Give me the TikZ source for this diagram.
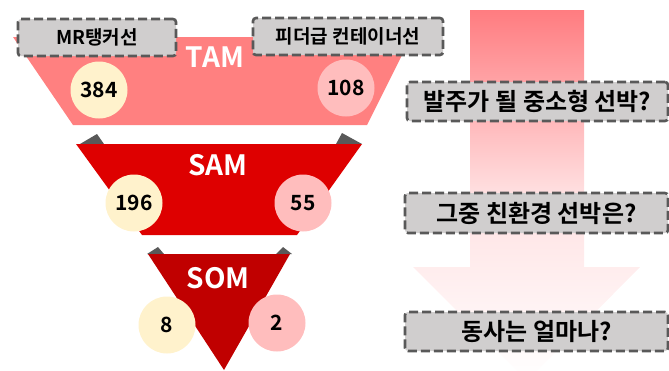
\documentclass[tikz,border=0pt]{standalone}
\usepackage{fontspec}
\setmainfont{Noto Sans CJK KR}[BoldFont={Noto Sans CJK KR Bold}]
\definecolor{tamc}{RGB}{255,128,128}
\definecolor{samc}{RGB}{222,0,0}
\definecolor{somc}{RGB}{192,0,0}
\definecolor{yel}{RGB}{255,242,204}
\definecolor{pnk}{RGB}{255,189,189}
\definecolor{wedge}{RGB}{89,89,89}
\definecolor{boxfill}{RGB}{208,206,206}
\definecolor{arrtop}{RGB}{255,124,128}
\tikzset{
  qbox/.style={draw=wedge, fill=boxfill, line width=2.6pt, dash pattern=on 9pt off 4pt, rounded corners=3pt, inner sep=0pt, font=\bfseries},
  numc/.style={circle, minimum size=57pt, inner sep=0pt, font=\bfseries\fontsize{21}{21}\selectfont},
  lvl/.style={text=white, font=\bfseries\fontsize{28}{28}\selectfont, inner sep=0pt},
  smalltxt/.style={font=\bfseries\fontsize{19}{19}\selectfont},
  bigtxt/.style={font=\bfseries\fontsize{24}{24}\selectfont}
}
\begin{document}
\begin{tikzpicture}[x=1pt,y=-1pt]
\useasboundingbox (0,0) rectangle (669,370);
% big gradient arrow
\shade[top color=arrtop, bottom color=white, middle color={rgb,255:red,255;green,225;blue,226}]
  (470,10) -- (584,10) -- (584,267) -- (640,267) -- (527,381) -- (413,267) -- (470,267) -- cycle;
% funnel
\fill[tamc] (13,37) -- (411,37) -- (367,125) -- (73,125) -- cycle;
\fill[wedge] (80,144) -- (97,134) -- (104,144) -- cycle;
\fill[wedge] (336,144) -- (342,133) -- (362,144) -- cycle;
\fill[samc] (76,144) -- (362,144) -- (297,235) -- (142,235) -- cycle;
\fill[wedge] (147,254) -- (158,247) -- (164,254) -- cycle;
\fill[wedge] (276,254) -- (283,247) -- (292,254) -- cycle;
\fill[somc] (148,254) -- (290,254) -- (224,370) -- cycle;
% labels
\node[lvl] (tam) at (215,57) {TAM};
\node[lvl] (sam) at (218,165) {SAM};
\node[lvl] (som) at (218,278) {SOM};
% circles
\node[numc, fill=yel] (c1) at (99,90) {384};
\node[numc, fill=pnk] (c2) at (346,88) {108};
\node[numc, fill=yel] (c3) at (134,203) {196};
\node[numc, fill=pnk] (c4) at (303,203) {55};
\node[numc, fill=yel] (c5) at (167,325) {8};
\node[numc, fill=pnk] (c6) at (277,323) {2};
% boxes
\node[qbox, smalltxt, minimum width=158pt, minimum height=37pt] (b1) at (97,37.5) {MR탱커선};
\node[qbox, smalltxt, minimum width=190pt, minimum height=37pt] (b2) at (348,36.5) {피더급 컨테이너선};
\node[qbox, bigtxt, minimum width=261pt, minimum height=39pt] (b3) at (537.5,101.5) {발주가 될 중소형 선박?};
\node[qbox, bigtxt, minimum width=263pt, minimum height=40pt] (b4) at (536.5,213) {그중 친환경 선박은?};
\node[qbox, bigtxt, minimum width=263pt, minimum height=39pt] (b5) at (536.5,331.5) {동사는 얼마나?};
\end{tikzpicture}
\end{document}
